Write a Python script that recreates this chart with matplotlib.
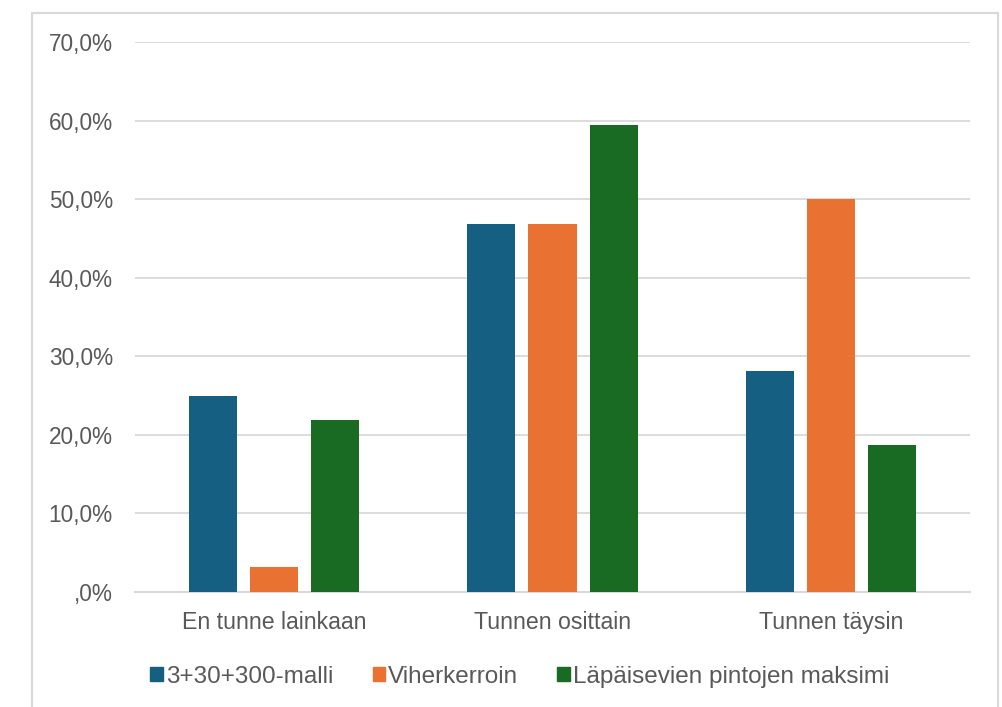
import matplotlib.pyplot as plt
import matplotlib.patches as mpatches
from matplotlib.ticker import FuncFormatter, MultipleLocator
import numpy as np

# Data: share of respondents (32 in total)
categories = ['En tunne lainkaan', 'Tunnen osittain', 'Tunnen täysin']
series_names = ['3+30+300-malli', 'Viherkerroin', 'Läpäisevien pintojen maksimi']
malli = [0.25, 0.46875, 0.28125]
viherkerroin = [0.03125, 0.46875, 0.50]
lapaisevat = [0.21875, 0.59375, 0.1875]
colors = ['#156082', '#E97132', '#196B24']

text_color = '#595959'
grid_color = '#D9D9D9'
plt.rcParams['font.family'] = ['Liberation Sans', 'DejaVu Sans']

fig = plt.figure(figsize=(10.02, 7.07), dpi=100)
fig.patch.set_facecolor('white')
ax = fig.add_axes([135 / 1002, 1 - 592 / 707, 835 / 1002, 550 / 707])

x = np.arange(len(categories))
width = 0.173
step = 0.22
for i, (vals, col, name) in enumerate(zip([malli, viherkerroin, lapaisevat], colors, series_names)):
    ax.bar(x + (i - 1) * step, vals, width=width, color=col, label=name, zorder=3)

ax.set_xlim(-0.5, 2.5)
ax.set_ylim(0, 0.7)
ax.yaxis.set_major_locator(MultipleLocator(0.1))


def pct(v, pos):
    s = f"{v * 100:.1f}".replace('.', ',')
    if s.startswith('0,'):
        s = s[1:]
    return s + '%'


ax.yaxis.set_major_formatter(FuncFormatter(pct))
ax.set_xticks(x)
ax.set_xticklabels(categories)
ax.grid(axis='y', color=grid_color, linewidth=1.3, zorder=0)
ax.tick_params(axis='y', length=0, labelsize=16.3, colors=text_color, pad=16)
ax.tick_params(axis='x', length=0, labelsize=16.7, colors=text_color, pad=14)
for side in ['top', 'right', 'left']:
    ax.spines[side].set_visible(False)
ax.spines['bottom'].set_color(grid_color)
ax.spines['bottom'].set_linewidth(1.5)

# chart border
border = mpatches.Rectangle((32 / 1002, -0.05), 966 / 1002, 1.05 - 13 / 707,
                            transform=fig.transFigure, fill=False,
                            edgecolor=grid_color, linewidth=1.5)
fig.patches.append(border)

handles = [mpatches.Patch(color=c) for c in colors]
leg = fig.legend(handles, series_names, loc='center', ncol=3,
                 bbox_to_anchor=(520 / 1002, 1 - 677 / 707), frameon=False,
                 fontsize=17.5, handlelength=0.5, handleheight=0.5,
                 handletextpad=0.15, columnspacing=1.6)
for t in leg.get_texts():
    t.set_color(text_color)

fig.savefig('out.png', dpi=100)
